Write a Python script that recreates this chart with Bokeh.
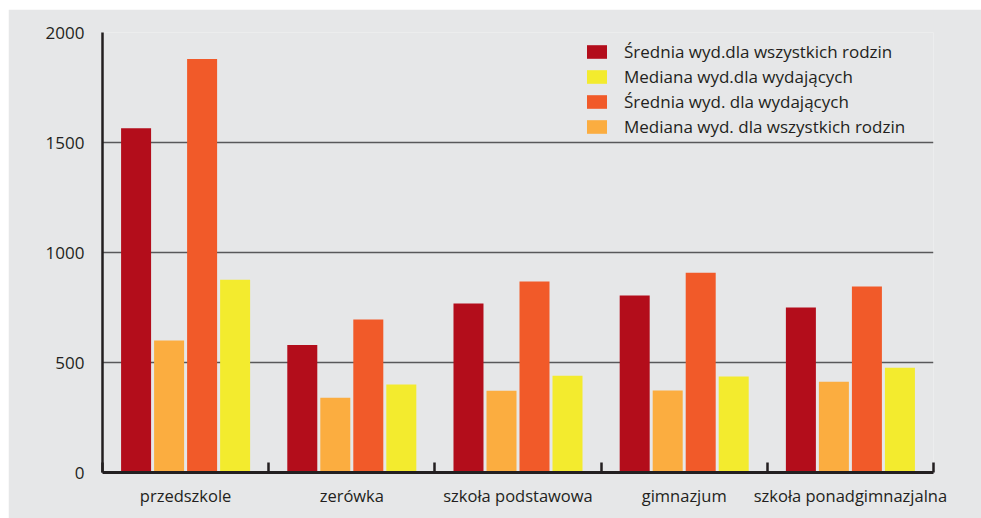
from bokeh.plotting import figure
from bokeh.models import FixedTicker, Legend, LegendItem, Range1d
from bokeh.embed import file_html
from bokeh.resources import INLINE
import numpy as np

categories = ["przedszkole", "zerówka", "szkoła podstawowa", "gimnazjum", "szkoła ponadgimnazjalna"]
srednia_wszystkich = [1565, 580, 768, 805, 750]
mediana_wszystkich = [600, 340, 372, 373, 412]
srednia_wydajacych = [1880, 695, 868, 908, 845]
mediana_wydajacych = [876, 400, 440, 436, 476]
y_ticks = [0, 500, 1000, 1500, 2000]

series = [
    ("Średnia wyd.dla wszystkich rodzin", srednia_wszystkich, "#b30d1b"),
    ("Mediana wyd. dla wszystkich rodzin", mediana_wszystkich, "#fbad40"),
    ("Średnia wyd. dla wydających", srednia_wydajacych, "#f15a29"),
    ("Mediana wyd.dla wydających", mediana_wydajacych, "#f3eb2e"),
]
legend_order = [0, 3, 2, 1]

BG = "#e6e7e8"
TXT = "#231f20"
FONT = "Open Sans"

p = figure(width=973, height=509, output_backend="svg", toolbar_location=None,
           x_range=Range1d(0, len(categories)), y_range=Range1d(0, 2000),
           min_border_left=94, min_border_right=48, min_border_top=23, min_border_bottom=46)
p.margin = (9, 0, 0, 8)
p.background_fill_color = BG
p.border_fill_color = BG
p.outline_line_color = None

n = len(categories)
centers = np.arange(n) + 0.5
pitch = 0.1986
bw = 0.1805
renderers = []
for k, (name, vals, col) in enumerate(series):
    r = p.vbar(x=centers + (k - 1.5) * pitch, top=vals, width=bw, bottom=0,
               fill_color=col, line_color=None)
    renderers.append(r)

# x axis
p.xaxis.ticker = FixedTicker(ticks=list(centers), minor_ticks=list(np.arange(n + 1)))
p.xaxis.major_label_overrides = {float(c): lab for c, lab in zip(centers, categories)}
p.xaxis.major_tick_line_color = None
p.xaxis.minor_tick_in = 10
p.xaxis.minor_tick_out = 0
p.xaxis.minor_tick_line_width = 2.5
p.xaxis.minor_tick_line_color = TXT
p.xaxis.axis_line_color = TXT
p.xaxis.axis_line_width = 3
p.xaxis.major_label_text_font = FONT
p.xaxis.major_label_text_font_size = "16.5px"
p.xaxis.major_label_text_color = TXT
p.xaxis.major_label_standoff = 5

# y axis
p.yaxis.ticker = FixedTicker(ticks=y_ticks)
p.yaxis.major_tick_line_color = None
p.yaxis.minor_tick_line_color = None
p.yaxis.axis_line_color = TXT
p.yaxis.axis_line_width = 2.5
p.yaxis.major_label_text_font = FONT
p.yaxis.major_label_text_font_size = "17px"
p.yaxis.major_label_text_color = TXT
p.yaxis.major_label_standoff = 12

p.xgrid.grid_line_color = None
p.ygrid.grid_line_color = "#58585a"
p.ygrid.grid_line_width = 1.5

items = [LegendItem(label=series[i][0], renderers=[renderers[i]]) for i in legend_order]
legend = Legend(items=items, location=(482, 334), padding=0, margin=0, spacing=2,
                glyph_width=25, glyph_height=17, label_height=17, label_standoff=15,
                label_text_font=FONT, label_text_font_size="17px", label_text_color=TXT,
                background_fill_alpha=0, border_line_color=None)
p.add_layout(legend)

open("out.html", "w").write(file_html(p, INLINE))
